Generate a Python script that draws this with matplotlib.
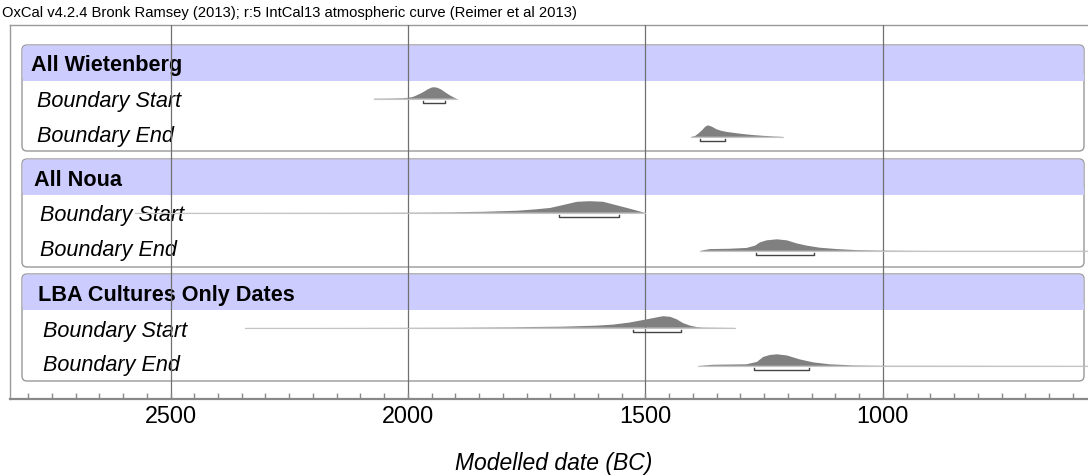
import matplotlib
matplotlib.use('Agg')
import matplotlib.pyplot as plt
from matplotlib.patches import FancyBboxPatch
from matplotlib.ticker import MultipleLocator
import numpy as np

plt.rcParams['font.family'] = ['Liberation Sans', 'DejaVu Sans']

# ---- data ----
groups = ['All Wietenberg', 'All Noua', 'LBA Cultures Only Dates']
rows = ['Boundary Start', 'Boundary End']

# modelled densities: years BC and relative height (peak = 1)
wiet_start_yr = [2072, 2040, 2010, 2000, 1990, 1985, 1975, 1968, 1958, 1950, 1945, 1938, 1930, 1922, 1912, 1905, 1897]
wiet_start_p = [0.02, 0.03, 0.05, 0.08, 0.15, 0.23, 0.42, 0.57, 0.82, 0.97, 1.0, 0.95, 0.8, 0.57, 0.3, 0.14, 0.0]
wiet_end_yr = [1404, 1395, 1388, 1380, 1374, 1368, 1360, 1350, 1340, 1328, 1310, 1290, 1270, 1250, 1230, 1211]
wiet_end_p = [0.0, 0.08, 0.3, 0.6, 0.88, 1.0, 0.88, 0.65, 0.52, 0.42, 0.32, 0.22, 0.14, 0.08, 0.04, 0.01]

noua_start_yr = [2575, 2300, 2100, 1980, 1912, 1842, 1771, 1735, 1701, 1670, 1644, 1617, 1589, 1560, 1533, 1507, 1500]
noua_start_p = [0.005, 0.01, 0.015, 0.025, 0.04, 0.08, 0.17, 0.28, 0.41, 0.7, 0.95, 1.0, 0.95, 0.64, 0.35, 0.06, 0.0]
noua_end_yr = [1385, 1364, 1322, 1287, 1269, 1259, 1245, 1223, 1202, 1181, 1160, 1133, 1097, 1055, 1006, 900, 800, 568]
noua_end_p = [0.0, 0.15, 0.18, 0.25, 0.45, 0.73, 0.91, 1.0, 0.91, 0.64, 0.45, 0.27, 0.15, 0.06, 0.03, 0.01, 0.01, 0.01]

lba_start_yr = [2343, 2200, 2050, 1900, 1779, 1674, 1602, 1568, 1533, 1497, 1463, 1448, 1434, 1421, 1406, 1392, 1379, 1312]
lba_start_p = [0.005, 0.005, 0.01, 0.02, 0.045, 0.09, 0.18, 0.27, 0.45, 0.73, 1.0, 0.95, 0.73, 0.41, 0.18, 0.06, 0.03, 0.01]
lba_end_yr = [1389, 1358, 1287, 1265, 1252, 1238, 1223, 1202, 1175, 1147, 1112, 1063, 1006, 568]
lba_end_p = [0.0, 0.09, 0.13, 0.34, 0.77, 0.94, 1.0, 0.9, 0.56, 0.3, 0.13, 0.04, 0.02, 0.01]

# 95.4% ranges (brackets)
wiet_start_hpd = (1968, 1922)
wiet_end_hpd = (1385, 1333)
noua_start_hpd = (1682, 1556)
noua_end_hpd = (1267, 1145)
lba_start_hpd = (1526, 1425)
lba_end_hpd = (1272, 1156)

dists = [
  [(wiet_start_yr, wiet_start_p, wiet_start_hpd), (wiet_end_yr, wiet_end_p, wiet_end_hpd)],
  [(noua_start_yr, noua_start_p, noua_start_hpd), (noua_end_yr, noua_end_p, noua_end_hpd)],
  [(lba_start_yr, lba_start_p, lba_start_hpd), (lba_end_yr, lba_end_p, lba_end_hpd)],
]

title = 'OxCal v4.2.4 Bronk Ramsey (2013); r:5 IntCal13 atmospheric curve (Reimer et al 2013)'

# ---- layout (pixels from top-left) ----
W, H = 1088, 476
frame_top, frame_bot, frame_left = 25, 399, 10
box_tops = [45, 159, 274]
box_bots = [151, 267, 381]
band_h = 35
box_l, box_r = 22, 1084
head_x = [31, 34.5, 37.5]
row_x = [37, 40, 43]
PEAK = 11.5

fig = plt.figure(figsize=(W / 100, H / 100), dpi=100)
bg = fig.add_axes([0, 0, 1, 1])
bg.set_xlim(0, W)
bg.set_ylim(H, 0)
bg.axis('off')

ax = fig.add_axes([frame_left / W, (H - frame_bot) / H, (W - frame_left) / W, (frame_bot - frame_top) / H])
ax.set_zorder(2)
ax.patch.set_alpha(0)
ax.set_xlim(2838, 568)
ax.set_ylim(frame_bot, frame_top)

for g in range(3):
  t, b = box_tops[g], box_bots[g]
  box = FancyBboxPatch((box_l, t), box_r - box_l, b - t,
                       boxstyle='round,pad=0,rounding_size=5',
                       facecolor='white', edgecolor='#999999', lw=1)
  bg.add_patch(box)
  band = FancyBboxPatch((box_l + 0.5, t + 0.5), box_r - box_l - 1, band_h,
                        boxstyle='round,pad=0,rounding_size=4.5',
                        facecolor='#ccccff', edgecolor='none')
  bg.add_patch(band)
  bg.add_patch(plt.Rectangle((box_l + 0.5, t + band_h - 6), box_r - box_l - 1, 6.5,
                             facecolor='#ccccff', edgecolor='none'))
  bg.text(head_x[g], t + band_h - 8.5, groups[g], fontsize=15.6, fontweight='bold',
          va='baseline', ha='left', color='black')

  band_bot = t + band_h
  label_base = [band_bot + 27.5, band_bot + 62.3]
  dist_base = [band_bot + 18.7, band_bot + 56.8]
  for r in range(2):
    bg.text(row_x[g], label_base[r], rows[r], fontsize=15.6, fontstyle='italic',
            va='baseline', ha='left', color='black')
    yrs, p, hpd = dists[g][r]
    y0 = dist_base[r]
    yrs = np.array(yrs)
    p = np.array(p)
    ax.plot([yrs[0], yrs[-1]], [y0, y0], color='#c4c4c4', lw=0.8, zorder=3)
    ax.fill_between(yrs, y0, y0 - p * PEAK, facecolor='#808080', edgecolor='none',
                    lw=0, zorder=4)
    yb = y0 + 4.2
    ax.plot([hpd[0], hpd[0], hpd[1], hpd[1]], [yb - 2, yb, yb, yb - 2],
            color='#444444', lw=1, zorder=5)

# axes frame and ticks
for s in ['left', 'top']:
  ax.spines[s].set_color('#999999')
  ax.spines[s].set_linewidth(1)
ax.spines['right'].set_visible(False)
ax.spines['bottom'].set_color('#888888')
ax.spines['bottom'].set_linewidth(1.6)
ax.set_yticks([])
ax.xaxis.set_major_locator(MultipleLocator(500))
ax.xaxis.set_minor_locator(MultipleLocator(50))
ax.tick_params(axis='x', which='both', direction='in', length=4, color='#888888',
               width=1, labelsize=16.8, pad=4.5)
ax.set_axisbelow(False)
ax.grid(axis='x', which='major', color='#707070', lw=0.9, zorder=6)

fig.text(2 / W, 1 - 17.5 / H, title, fontsize=10.6, ha='left', va='baseline')
fig.text(554 / W, 1 - 470 / H, 'Modelled date (BC)', fontsize=16.5, fontstyle='italic',
         ha='center', va='baseline')

fig.savefig('out.png', dpi=100)
